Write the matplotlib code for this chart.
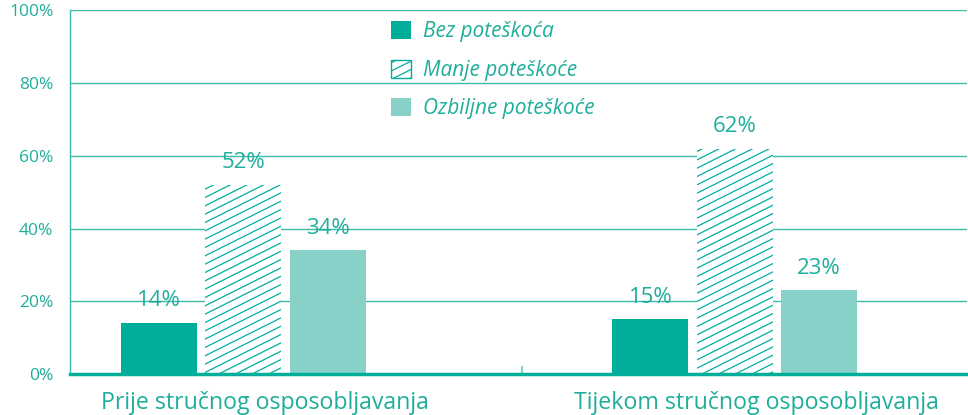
import numpy as np
import matplotlib
matplotlib.use("Agg")
import matplotlib.pyplot as plt
from matplotlib import hatch as mhatch
from matplotlib.path import Path

# podaci
groups = ["Prije stručnog osposobljavanja", "Tijekom stručnog osposobljavanja"]
series = ["Bez poteškoća", "Manje poteškoće", "Ozbiljne poteškoće"]
bez = [14, 15]
manje = [52, 62]
ozbiljne = [34, 23]

teal = "#00ae9a"
light = "#88d1c8"
text_c = "#1fae9c"
grid_c = "#3dbaa9"


# blaži nagib šrafure (oko 27°) umjesto standardnih 45°
class ShallowHatch(mhatch.HatchPatternBase):
    def __init__(self, hatch, density):
        self.num_lines = int((hatch.count('/') + hatch.count('x')
                              + hatch.count('X')) * density)
        if self.num_lines % 2:
            self.num_lines += 1
        if self.num_lines:
            self.num_vertices = (self.num_lines + self.num_lines // 2 + 1) * 2
        else:
            self.num_vertices = 0

    def set_vertices_and_codes(self, vertices, codes):
        n = self.num_lines
        c = np.arange(-(n // 2), n + 1) / n
        vertices[0::2, 0] = 0.0
        vertices[0::2, 1] = c
        vertices[1::2, 0] = 1.0
        vertices[1::2, 1] = c + 0.5
        codes[0::2] = Path.MOVETO
        codes[1::2] = Path.LINETO


mhatch._hatch_types = [ShallowHatch if t is mhatch.NorthEastHatch else t
                       for t in mhatch._hatch_types]

plt.rcParams['font.family'] = ['Open Sans', 'DejaVu Sans']
plt.rcParams['hatch.linewidth'] = 0.9

fig = plt.figure(figsize=(9.68, 4.15), dpi=100)
ax = fig.add_axes([0.0723, 0.0988, 0.9267, 0.8759])

w = 0.1545
step = 0.1717
x = np.arange(len(groups))

b1 = ax.bar(x - step, bez, w, color=teal, label=series[0], zorder=2)
b2 = ax.bar(x, manje, w, facecolor="white", edgecolor=teal, linewidth=0,
            hatch="//", label=series[1], zorder=2)
b3 = ax.bar(x + step, ozbiljne, w, color=light, label=series[2], zorder=2)

for bars in (b1, b2, b3):
    for r in bars:
        ax.annotate(f"{r.get_height():.0f}%",
                    (r.get_x() + r.get_width() / 2, r.get_height()),
                    xytext=(0, 16), textcoords="offset points",
                    ha="center", va="center", fontsize=16, color=text_c,
                    zorder=4)

ax.set_xlim(-0.3527, 1.4725)
ax.set_ylim(0, 100)
ax.set_yticks(np.arange(0, 101, 20))
ax.set_yticklabels([f"{v}%" for v in range(0, 101, 20)])
ax.tick_params(axis="y", length=0, pad=12, labelsize=12.5, labelcolor=text_c)
ax.grid(axis="y", color=grid_c, linewidth=1.0, zorder=0)

ax.set_xticks(x + np.array([0.044, 0.045]))
ax.set_xticklabels(groups)
ax.tick_params(axis="x", length=0, pad=12, labelsize=16.7, labelcolor=text_c)
ax.set_xticks([0.566], minor=True)
ax.tick_params(axis="x", which="minor", length=6, width=1.5,
               color=light, direction="in")

for s in ("top", "right"):
    ax.spines[s].set_visible(False)
ax.spines["left"].set_color(grid_c)
ax.spines["left"].set_linewidth(1.0)
ax.spines["bottom"].set_color(teal)
ax.spines["bottom"].set_linewidth(2.5)

leg = ax.legend(loc="upper left", bbox_to_anchor=(0.3465, 0.999), frameon=False,
                borderpad=0, handlelength=0.96, handleheight=0.96,
                labelspacing=0.82, handletextpad=0.58,
                prop={"style": "italic", "size": 15})
for t in leg.get_texts():
    t.set_color(text_c)
leg.legend_handles[1].set_linewidth(1.0)

fig.savefig("out.png", dpi=100)
